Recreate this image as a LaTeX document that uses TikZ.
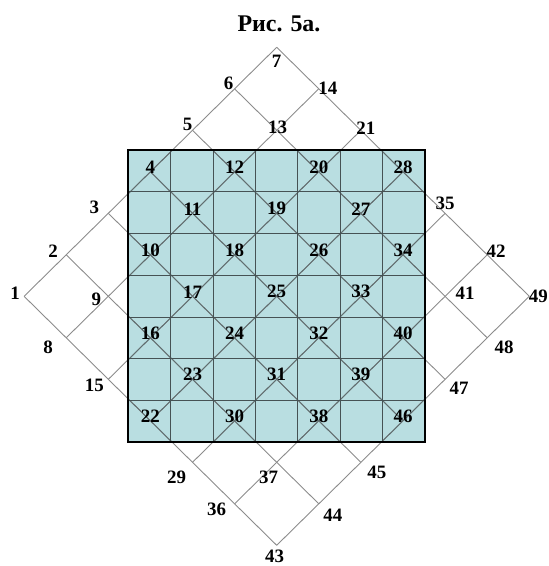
\documentclass[tikz,border=0pt]{standalone}
\usepackage{fontspec}
\setmainfont{Liberation Serif}
\definecolor{sqfill}{RGB}{185,222,225}
\definecolor{dgray}{RGB}{140,140,140}
\definecolor{dgrayin}{RGB}{95,110,112}
\definecolor{gridc}{RGB}{70,82,84}
\begin{document}
\begin{tikzpicture}[x=1bp,y=-1bp,
  lbl/.style={font=\bfseries\fontsize{19}{19}\selectfont, inner sep=0pt},
  ttl/.style={font=\bfseries\fontsize{24}{24}\selectfont, inner sep=0pt},
  dline/.style={draw=dgray, line width=0.9bp},
  dlinein/.style={draw=dgrayin, line width=0.9bp},
  gline/.style={draw=gridc, line width=0.9bp},
  border/.style={draw=black, line width=2.2bp}]
\useasboundingbox (0,0) rectangle (549,566);
% lattice points of the diamond
\foreach \r in {0,...,6}{\foreach \c in {0,...,6}{
  \pgfmathtruncatemacro{\n}{7*\r+\c+1}
  \coordinate (p\n) at ({276.7+42.1*(\c+\r-6)},{296.3+41.5*(\r-\c)});
}}
\coordinate (sq1) at (128.3,150);
\coordinate (sq2) at (425,442.3);
% square fill
\fill[sqfill] (sq1) rectangle (sq2);
% diamond lines
\foreach \r in {0,...,6}{
  \pgfmathtruncatemacro{\a}{7*\r+1}\pgfmathtruncatemacro{\b}{7*\r+7}
  \draw[dline] (p\a) -- (p\b);}
\foreach \c in {1,...,7}{
  \pgfmathtruncatemacro{\b}{42+\c}
  \draw[dline] (p\c) -- (p\b);}
\begin{scope}
  \clip (sq1) rectangle (sq2);
  \foreach \r in {0,...,6}{
    \pgfmathtruncatemacro{\a}{7*\r+1}\pgfmathtruncatemacro{\b}{7*\r+7}
    \draw[dlinein] (p\a) -- (p\b);}
  \foreach \c in {1,...,7}{
    \pgfmathtruncatemacro{\b}{42+\c}
    \draw[dlinein] (p\c) -- (p\b);}
\end{scope}
% square grid
\foreach \i in {1,...,6}{
  \draw[gline] ({128.3+\i*42.386},150) -- ({128.3+\i*42.386},442.3);
  \draw[gline] (128.3,{150+\i*41.757}) -- (425,{150+\i*41.757});}
\draw[border] (sq1) rectangle (sq2);
% title
\node[ttl] (title) at (279,23.4) {Рис. 5а.};
% inner labels
\foreach \n in {4,10,11,12,16,17,18,19,20,22,23,24,25,26,27,28,30,31,32,33,34,38,39,40,46}
  \node[lbl] (l\n) at ([shift={(0,-4.5)}]p\n) {\n};
% outer labels
\foreach \n/\dx/\dy in {1/-9/-3, 2/-13/-4, 3/-14/-6, 5/-5/-6, 6/-6/-5, 7/0/14,
  14/9/-1, 13/1/-3, 21/5/-2, 35/0/-10, 42/9/-4, 49/9/0, 41/20/-3, 48/17/9,
  47/14/9, 45/16/10, 44/14/11, 43/-2/11, 37/-8/15, 36/-18/6, 29/-16/15,
  15/-14/6, 8/-18/9, 9/-12/3}
  \node[lbl] (l\n) at ([shift={(\dx,\dy)}]p\n) {\n};
\end{tikzpicture}
\end{document}
